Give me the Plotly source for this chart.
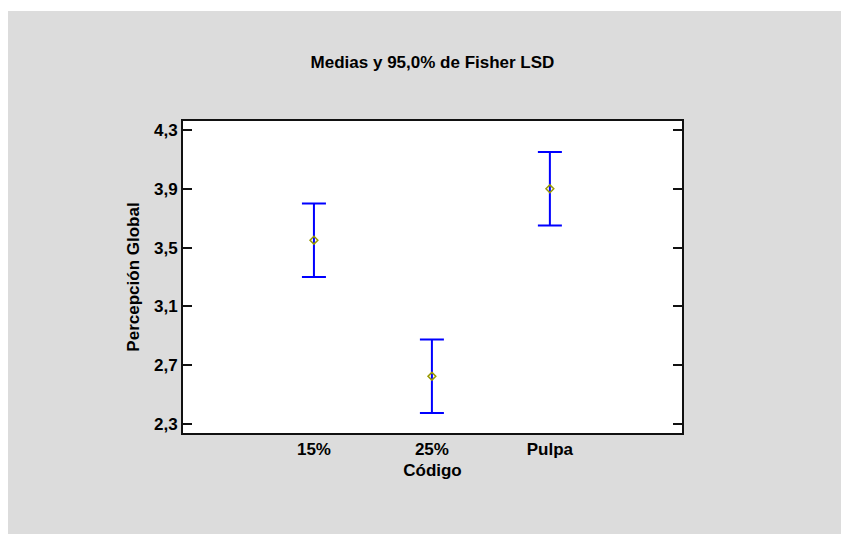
import plotly.graph_objects as go

categories = ["15%", "25%", "Pulpa"]
means = [3.55, 2.625, 3.90]
half_lsd = [0.25, 0.25, 0.25]
y_ticks = [2.3, 2.7, 3.1, 3.5, 3.9, 4.3]
y_tick_labels = ["2,3", "2,7", "3,1", "3,5", "3,9", "4,3"]

xpos = list(range(len(categories)))
FONT = "Liberation Sans, Arial, sans-serif"

fig = go.Figure()
fig.add_trace(go.Scatter(
    x=xpos, y=means, mode="markers",
    marker=dict(symbol="diamond-open", size=6, color="#999900",
                line=dict(width=1.5, color="#999900")),
    error_y=dict(type="data", array=half_lsd, symmetric=True,
                 color="#0000ff", thickness=2, width=12),
    showlegend=False, hoverinfo="skip",
))

W, H = 841, 534
L, R, T, B = 183, 682, 121, 433
pw, ph = R - L, B - T

fig.update_layout(
    width=W, height=H,
    margin=dict(l=L, r=W - R, t=T, b=H - B),
    paper_bgcolor="#dcdcdc",
    plot_bgcolor="white",
    font=dict(family=FONT, size=17, color="black"),
    title=dict(text="<b>Medias y 95,0% de Fisher LSD</b>",
               x=(L + pw / 2) / W, xanchor="center",
               y=1 - 62 / H, yanchor="middle",
               font=dict(size=17)),
    shapes=[
        dict(type="rect", xref="paper", yref="paper", layer="below",
             x0=(0 - L) / pw, x1=(W - L) / pw,
             y0=(B - 0) / ph, y1=(B - 11) / ph,
             fillcolor="white", line=dict(width=0)),
        dict(type="rect", xref="paper", yref="paper", layer="below",
             x0=(0 - L) / pw, x1=(8 - L) / pw,
             y0=(B - H) / ph, y1=(B - 0) / ph,
             fillcolor="white", line=dict(width=0)),
    ],
)

fig.update_xaxes(
    range=[-1.11, 3.12],
    tickvals=xpos, ticktext=[f"<b>{c}</b>" for c in categories],
    ticks="", showgrid=False, zeroline=False,
    showline=True, linecolor="#111111", linewidth=2, mirror=True,
    title=dict(text="<b>Código</b>", standoff=6, font=dict(size=17)),
    tickfont=dict(size=17),
)
fig.update_yaxes(
    range=[2.239, 4.361],
    tickvals=y_ticks, ticktext=[f"<b>{t}</b>" for t in y_tick_labels],
    ticks="inside", ticklen=9, tickwidth=1.5, tickcolor="#111111",
    showgrid=False, zeroline=False,
    showline=True, linecolor="#111111", linewidth=2, mirror="ticks",
    title=dict(text="<b>Percepción Global</b>", standoff=10, font=dict(size=17)),
    tickfont=dict(size=17),
)

fig.write_html("out.html")
